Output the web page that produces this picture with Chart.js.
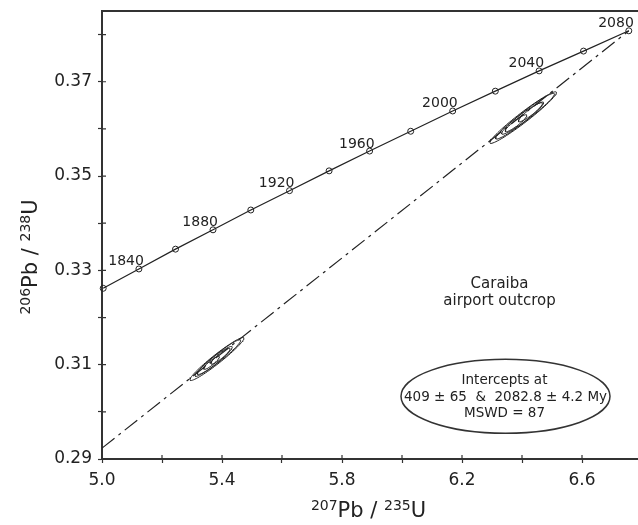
<!DOCTYPE html>
<html>
<head>
<meta charset="utf-8">
<script src="https://cdn.jsdelivr.net/npm/chart.js@4.4.1/dist/chart.umd.min.js"></script>
<style>
  html, body { margin: 0; padding: 0; background: #fff; }
</style>
</head>
<body>
<canvas id="concordia" width="638" height="525"></canvas>
<script>
/* concordia : ages (Ma) et rapports isotopiques */
const concAges = [1820, 1840, 1860, 1880, 1900, 1920, 1940, 1960, 1980, 2000, 2020, 2040, 2060, 2080];
const concX = [5.004, 5.123, 5.245, 5.370, 5.496, 5.625, 5.757, 5.892, 6.029, 6.169, 6.311, 6.457, 6.605, 6.756];
const concY = [0.3262, 0.3303, 0.3345, 0.3386, 0.3428, 0.3469, 0.3511, 0.3553, 0.3595, 0.3638, 0.3680, 0.3723, 0.3765, 0.3808];
const labelAges = [1840, 1880, 1920, 1960, 2000, 2040, 2080];

/* discordia */
const discordX = [5.0, 6.756];
const discordY = [0.2923, 0.3808];

/* ellipses d'erreur : centre, demi-largeurs, correlation */
const ellX = [5.383, 5.390, 5.372, 5.395, 5.365, 6.404, 6.420, 6.390, 6.430, 6.380];
const ellY = [0.3112, 0.3116, 0.3107, 0.3118, 0.3104, 0.3624, 0.3632, 0.3617, 0.3636, 0.3612];
const ellSx = [0.090, 0.072, 0.062, 0.032, 0.026, 0.111, 0.088, 0.078, 0.042, 0.036];
const ellSy = [0.00456, 0.00368, 0.00318, 0.00168, 0.00138, 0.00547, 0.00434, 0.00386, 0.00210, 0.00180];
const ellRho = [0.965, 0.96, 0.955, 0.92, 0.9, 0.97, 0.965, 0.96, 0.93, 0.92];

/* etiquettes des axes */
const xTicks = ["5.0", "5.4", "5.8", "6.2", "6.6"];
const yTicks = ["0.29", "0.31", "0.33", "0.35", "0.37"];

const ink = "#222";
const font = "DejaVu Sans";

const datasets = [];

/* contour de chaque ellipse */
for (let i = 0; i < ellX.length; i++) {
  const pts = [];
  for (let k = 0; k <= 72; k++) {
    const a = (k / 72) * 2 * Math.PI;
    pts.push({
      x: ellX[i] + ellSx[i] * Math.cos(a),
      y: ellY[i] + ellSy[i] * (ellRho[i] * Math.cos(a) + Math.sqrt(1 - ellRho[i] * ellRho[i]) * Math.sin(a)),
    });
  }
  datasets.push({
    data: pts,
    showLine: true,
    borderColor: ink,
    borderWidth: 1,
    pointRadius: 0,
  });
}

datasets.push({
  data: discordX.map((x, i) => ({ x: x, y: discordY[i] })),
  showLine: true,
  borderColor: ink,
  borderWidth: 1.2,
  borderDash: [16, 5, 3, 5],
  pointRadius: 0,
});

datasets.push({
  data: concX.map((x, i) => ({ x: x, y: concY[i] })),
  showLine: true,
  borderColor: ink,
  borderWidth: 1.2,
  pointRadius: 3,
  pointBorderWidth: 1,
  pointBorderColor: ink,
  pointBackgroundColor: "rgba(0,0,0,0)",
  clip: false,
});

/* texte avec exposants, centre sur x */
function supText(ctx, parts, x, y, big, small) {
  let w = 0;
  parts.forEach((p) => {
    ctx.font = (p[1] ? small : big) + "px '" + font + "'";
    w += ctx.measureText(p[0]).width;
  });
  let cx = x - w / 2;
  ctx.textAlign = "left";
  parts.forEach((p) => {
    ctx.font = (p[1] ? small : big) + "px '" + font + "'";
    ctx.fillText(p[0], cx, p[1] ? y - 7 : y);
    cx += ctx.measureText(p[0]).width;
  });
}

const decor = {
  id: "decor",
  afterDraw(chart) {
    const ctx = chart.ctx;
    const area = chart.chartArea;
    const sx = chart.scales.x;
    const sy = chart.scales.y;
    ctx.save();
    ctx.strokeStyle = "#333";
    ctx.fillStyle = ink;

    /* cadre du haut + axe du bas jusqu'au bord */
    ctx.lineWidth = 2;
    ctx.beginPath();
    ctx.moveTo(area.left - 1, area.top);
    ctx.lineTo(chart.width, area.top);
    ctx.moveTo(area.right - 1, area.bottom);
    ctx.lineTo(chart.width, area.bottom);
    ctx.stroke();

    /* tirets vers l'interieur */
    ctx.lineWidth = 1.2;
    ctx.beginPath();
    sx.ticks.forEach((t) => {
      const px = sx.getPixelForValue(t.value);
      ctx.moveTo(px, area.bottom);
      ctx.lineTo(px, area.bottom - 4);
    });
    sy.ticks.forEach((t) => {
      const py = sy.getPixelForValue(t.value);
      ctx.moveTo(area.left, py);
      ctx.lineTo(area.left + 4, py);
    });
    ctx.stroke();

    /* ages sur la concordia */
    ctx.font = "14px '" + font + "'";
    ctx.textAlign = "right";
    ctx.textBaseline = "alphabetic";
    labelAges.forEach((age) => {
      const i = concAges.indexOf(age);
      const px = sx.getPixelForValue(concX[i]);
      const py = sy.getPixelForValue(concY[i]);
      ctx.fillText(String(age), px + 5, py - 3.5);
    });

    /* nom du site */
    ctx.font = "15px '" + font + "'";
    ctx.textAlign = "center";
    const nx = sx.getPixelForValue(6.325);
    const ny = sy.getPixelForValue(0.3262);
    ctx.fillText("Caraiba", nx, ny);
    ctx.fillText("airport outcrop", nx, ny + 17);

    /* encadre des intercepts */
    const bx = sx.getPixelForValue(6.345);
    const by = sy.getPixelForValue(0.3033);
    ctx.lineWidth = 1.5;
    ctx.beginPath();
    ctx.ellipse(bx, by, 104.5, 37, 0, 0, 2 * Math.PI);
    ctx.stroke();
    ctx.font = "13.5px '" + font + "'";
    ctx.fillText("Intercepts at", bx - 1, by - 12);
    ctx.fillText("409 \u00b1 65  &  2082.8 \u00b1 4.2 My", bx, by + 4.5);
    ctx.fillText("MSWD = 87", bx - 1, by + 21);

    /* titres des axes */
    supText(ctx, [["207", true], ["Pb / ", false], ["235", true], ["U", false]], 368.5, 516.5, 21, 14);
    ctx.translate(36.5, 257);
    ctx.rotate(-Math.PI / 2);
    supText(ctx, [["206", true], ["Pb / ", false], ["238", true], ["U", false]], 0, 0, 21, 14);
    ctx.restore();
  },
};

new Chart(document.getElementById("concordia"), {
  type: "scatter",
  data: { datasets: datasets },
  options: {
    responsive: false,
    animation: false,
    events: [],
    layout: { padding: { top: 11, right: 1, left: 0, bottom: 0 } },
    plugins: { legend: { display: false }, tooltip: { enabled: false } },
    scales: {
      x: {
        type: "linear",
        min: 5.0,
        max: 6.77,
        afterFit: (s) => { s.height = 66; s.paddingLeft = 0; s.paddingRight = 0; },
        border: { color: "#333", width: 2 },
        grid: { drawOnChartArea: false, tickLength: 4, tickWidth: 1.2, tickColor: "#333" },
        ticks: {
          stepSize: 0.2,
          includeBounds: false,
          autoSkip: false,
          maxRotation: 0,
          padding: 7,
          color: ink,
          font: { family: font, size: 17 },
          callback: (v) => (xTicks.includes(v.toFixed(1)) ? v.toFixed(1) : ""),
        },
      },
      y: {
        type: "linear",
        min: 0.29,
        max: 0.385,
        afterFit: (s) => { s.width = 102; s.paddingTop = 0; s.paddingBottom = 0; },
        border: { color: "#333", width: 2 },
        grid: { drawOnChartArea: false, tickLength: 4, tickWidth: 1.2, tickColor: "#333" },
        ticks: {
          stepSize: 0.01,
          includeBounds: false,
          autoSkip: false,
          padding: 6,
          color: ink,
          font: { family: font, size: 17 },
          callback: (v) => (yTicks.includes(v.toFixed(2)) ? v.toFixed(2) : ""),
        },
      },
    },
  },
  plugins: [decor],
});
</script>
</body>
</html>
